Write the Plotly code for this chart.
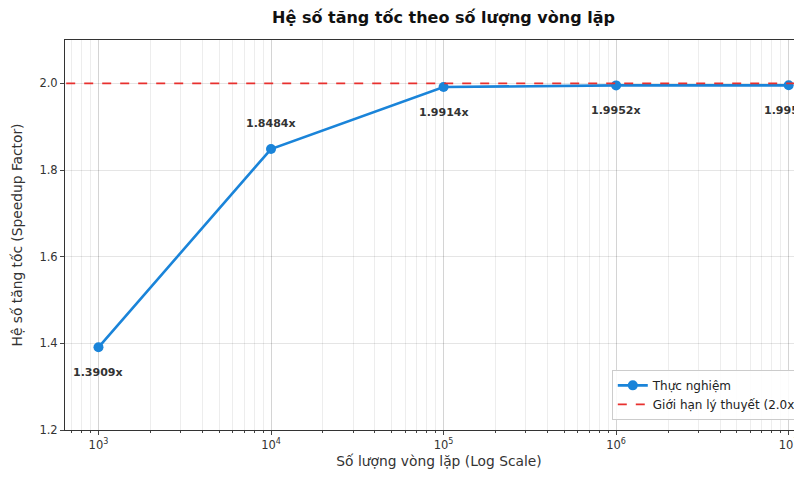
import math
import plotly.graph_objects as go

iterations = [1e3, 1e4, 1e5, 1e6, 1e7]
speedup = [1.3909, 1.8484, 1.9914, 1.9952, 1.9954]
labels = ["1.3909x", "1.8484x", "1.9914x", "1.9952x", "1.9954x"]
label_pos = ["below", "above", "below", "below", "below"]
x_tick_text = ["10<sup>3</sup>", "10<sup>4</sup>", "10<sup>5</sup>", "10<sup>6</sup>", "10<sup>7</sup>"]
theory_limit = 2.0
y_ticks = [1.2, 1.4, 1.6, 1.8, 2.0]

FONT = "DejaVu Sans"
BLUE = "#1a84d9"
RED = "#e8302e"

fig = go.Figure()
fig.add_trace(go.Scatter(
    x=iterations, y=speedup, mode="lines+markers",
    name="Thực nghiệm",
    line=dict(color=BLUE, width=2.6),
    marker=dict(color=BLUE, size=10),
))
fig.add_trace(go.Scatter(
    x=[10**2.5, 10**7.5], y=[theory_limit, theory_limit], mode="lines",
    name="Giới hạn lý thuyết (2.0x)",
    line=dict(color=RED, width=1.8, dash="dash"),
))

for x, y, t, p in zip(iterations, speedup, labels, label_pos):
    fig.add_annotation(
        x=math.log10(x), y=y, text=f"<b>{t}</b>", showarrow=False,
        yshift=-25 if p == "below" else 26,
        font=dict(family=FONT, size=11, color="#333333"),
    )

fig.update_layout(
    width=805, height=461,
    margin=dict(l=57, r=0, t=32, b=39),
    paper_bgcolor="white", plot_bgcolor="white",
    font=dict(family=FONT, size=11, color="#333333"),
    title=dict(text="<b>Hệ số tăng tốc theo số lượng vòng lặp</b>",
               x=0.541, xanchor="center", y=0.980, yanchor="middle",
               font=dict(family=FONT, size=16, color="#111111")),
    showlegend=True,
    legend=dict(x=0.731, y=0.026, xanchor="left", yanchor="bottom",
                bgcolor="rgba(255,255,255,0.85)", bordercolor="#cccccc", borderwidth=1,
                font=dict(family=FONT, size=12, color="#222222"),
                itemwidth=30, tracegroupgap=0),
)
fig.update_xaxes(
    type="log", range=[2.806, 7.141], automargin=False,
    tickvals=iterations, ticktext=x_tick_text,
    showgrid=True, gridcolor="rgba(0,0,0,0.10)", gridwidth=1,
    minor=dict(dtick="D1", showgrid=True, gridcolor="rgba(0,0,0,0.07)",
               ticks="outside", ticklen=2, tickcolor="#444444"),
    ticks="outside", ticklen=4, tickcolor="#444444",
    showline=True, linecolor="#333333", linewidth=1, mirror=True,
    zeroline=False,
    title=dict(text="Số lượng vòng lặp (Log Scale)", standoff=12,
               font=dict(family=FONT, size=13.8, color="#333333")),
    tickfont=dict(family=FONT, size=11.5, color="#333333"),
)
fig.update_yaxes(
    range=[1.2, 2.1], tickvals=y_ticks, tickformat=".1f", automargin=False,
    showgrid=True, gridcolor="rgba(0,0,0,0.10)", gridwidth=1,
    ticks="outside", ticklen=4, tickcolor="#444444",
    showline=True, linecolor="#333333", linewidth=1,
    zeroline=False,
    title=dict(text="Hệ số tăng tốc (Speedup Factor)", standoff=13,
               font=dict(family=FONT, size=13.8, color="#333333")),
    tickfont=dict(family=FONT, size=11.5, color="#333333"),
)

fig.write_html("out.html")
